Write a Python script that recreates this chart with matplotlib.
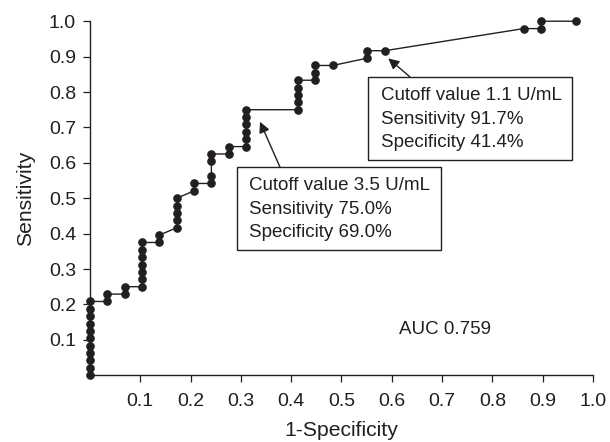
import matplotlib
matplotlib.use('Agg')
import matplotlib.pyplot as plt
from matplotlib.patches import Rectangle

# ROC points as counts: false positives out of 29 negatives,
# true positives out of 48 positives
N_NEG = 29
N_POS = 48
fp_counts = [0, 0, 0, 0, 0, 0, 0, 0, 0, 0, 0,
             1, 1, 2, 2,
             3, 3, 3, 3, 3, 3, 3,
             4, 4,
             5, 5, 5, 5, 5,
             6, 6,
             7, 7, 7, 7,
             8, 8,
             9, 9, 9, 9, 9, 9,
             12, 12, 12, 12, 12,
             13, 13, 13, 14, 16, 16, 17, 25, 26, 26, 28]
tp_counts = [0, 1, 2, 3, 4, 5, 6, 7, 8, 9, 10,
             10, 11, 11, 12,
             12, 13, 14, 15, 16, 17, 18,
             18, 19,
             20, 21, 22, 23, 24,
             25, 26,
             26, 27, 29, 30,
             30, 31,
             31, 32, 33, 34, 35, 36,
             36, 37, 38, 39, 40,
             40, 41, 42, 42, 43, 44, 44, 47, 47, 48, 48]

x_vals = [c / N_NEG for c in fp_counts]
y_vals = [c / N_POS for c in tp_counts]

ticks = [0.1, 0.2, 0.3, 0.4, 0.5, 0.6, 0.7, 0.8, 0.9, 1.0]
tick_labels = ['0.1', '0.2', '0.3', '0.4', '0.5', '0.6', '0.7', '0.8', '0.9', '1.0']

box1_lines = ['Cutoff value 3.5 U/mL', 'Sensitivity 75.0%', 'Specificity 69.0%']
box2_lines = ['Cutoff value 1.1 U/mL', 'Sensitivity 91.7%', 'Specificity 41.4%']
auc_text = 'AUC 0.759'

ink = '#231f20'
plt.rcParams['font.family'] = ['Liberation Sans', 'DejaVu Sans']

fig = plt.figure(figsize=(6.1, 4.42), dpi=100)
ax = fig.add_axes([0.1475, 0.1511, 0.8246, 0.8009])

ax.plot(x_vals, y_vals, color=ink, lw=1.0, marker='o', markersize=5.2,
        markerfacecolor=ink, markeredgecolor=ink, clip_on=False, zorder=3)

ax.set_xlim(0, 1.0)
ax.set_ylim(0, 1.0)
ax.set_xticks(ticks)
ax.set_xticklabels(tick_labels)
ax.set_yticks(ticks)
ax.set_yticklabels(tick_labels)
for side in ['top', 'right']:
    ax.spines[side].set_visible(False)
for side in ['left', 'bottom']:
    ax.spines[side].set_linewidth(1.0)
    ax.spines[side].set_color(ink)
ax.tick_params(axis='both', direction='out', length=5, width=0.9,
               color=ink, labelcolor=ink, labelsize=14)
ax.tick_params(axis='x', pad=8)
ax.tick_params(axis='y', pad=5)

ax.set_xlabel('1-Specificity', fontsize=15.2, color=ink, labelpad=8)
ax.set_ylabel('Sensitivity', fontsize=15.2, color=ink, labelpad=10)

# annotation boxes
ax.add_patch(Rectangle((0.2917, 0.354), 0.4061, 0.233, fill=True,
                       facecolor='white', edgecolor=ink, lw=1.0, zorder=4))
for i, line in enumerate(box1_lines):
    ax.text(0.316, 0.523 - i * 0.0665, line, fontsize=13.5, color=ink,
            va='baseline', ha='left', zorder=5)
ax.annotate('', xy=(0.338, 0.716), xytext=(0.378, 0.587),
            arrowprops=dict(arrowstyle='-|>', color=ink, lw=1.0,
                            mutation_scale=16, shrinkA=0, shrinkB=0))

ax.add_patch(Rectangle((0.552, 0.608), 0.406, 0.235, fill=True,
                       facecolor='white', edgecolor=ink, lw=1.0, zorder=4))
for i, line in enumerate(box2_lines):
    ax.text(0.5785, 0.777 - i * 0.0665, line, fontsize=13.5, color=ink,
            va='baseline', ha='left', zorder=5)
ax.annotate('', xy=(0.593, 0.895), xytext=(0.636, 0.843),
            arrowprops=dict(arrowstyle='-|>', color=ink, lw=1.0,
                            mutation_scale=16, shrinkA=0, shrinkB=0))

ax.text(0.615, 0.116, auc_text, fontsize=13.5, color=ink,
        va='baseline', ha='left')

fig.savefig('out.png', dpi=100)
